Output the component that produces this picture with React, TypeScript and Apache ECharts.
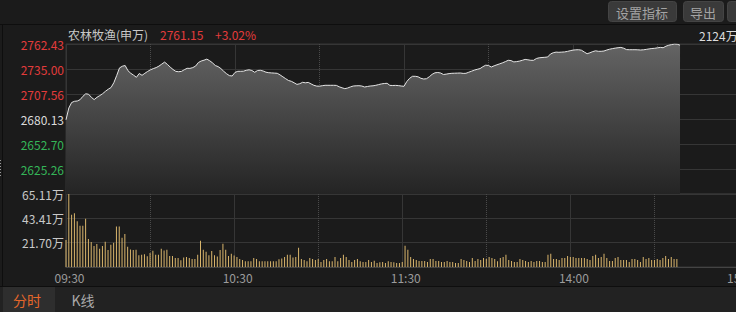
import React, { useEffect, useRef } from 'react';
import * as echarts from 'echarts';

// ---- data ----
const indexName = '农林牧渔(申万)';
const prevClose = 2680.13;
const priceMin = 2597.83;
const priceMax = 2762.43;
const volMax = 65.11;
const totalVolumeLabel = '2124万';
const tickMinutes = [0, 60, 120, 180, 240];
const tickLabels = ['09:30', '10:30', '11:30', '14:00', '15:00'];
const toolbarButtons = ['设置指标', '导出', ''];
const tabs = ['分时', 'K线'];

const prices = [
  2679.25, 2692.2, 2698.23, 2699.55, 2699.88, 2701.31, 2705.04, 2707.78, 2707.34, 2703.94,
  2701.42, 2703.94, 2705.8, 2707.89, 2710.52, 2712.83, 2714.69, 2720.07, 2727.86, 2736.2,
  2738.06, 2738.83, 2733.12, 2730.27, 2728.19, 2725.88, 2730.05, 2728.08, 2730.27, 2732.36,
  2734.11, 2735.43, 2736.53, 2738.17, 2740.37, 2742.56, 2740.04, 2737.07, 2734.44, 2732.36,
  2732.03, 2732.36, 2734.22, 2735.76, 2735.65, 2736.53, 2738.17, 2742.12, 2743.77, 2744.65,
  2745.85, 2744.1, 2741.79, 2738.83, 2737.62, 2735.43, 2732.47, 2729.83, 2727.75, 2727.31,
  2731.26, 2732.47, 2732.47, 2732.58, 2733.56, 2734.11, 2733.34, 2731.37, 2733.34, 2733.56,
  2732.8, 2731.48, 2730.93, 2730.71, 2730.49, 2730.27, 2728.52, 2726.43, 2724.35, 2722.37,
  2721.49, 2719.85, 2718.09, 2718.86, 2720.4, 2719.85, 2720.29, 2718.64, 2717.11, 2716.23,
  2716.12, 2716.67, 2717.11, 2717.11, 2717.11, 2717.11, 2717.0, 2715.46, 2714.36, 2713.41,
  2714.14, 2715.35, 2716.34, 2716.56, 2716.67, 2716.34, 2715.24, 2715.79, 2716.34, 2716.56,
  2717.11, 2717.87, 2718.64, 2719.08, 2719.3, 2717.0, 2716.89, 2717.0, 2716.78, 2716.34,
  2716.01, 2721.28, 2724.79, 2726.98, 2726.98, 2726.43, 2724.79, 2724.02, 2724.35, 2726.54,
  2729.17, 2730.82, 2731.15, 2730.6, 2728.95, 2729.39, 2729.94, 2730.27, 2730.38, 2730.49,
  2730.6, 2730.16, 2730.27, 2731.48, 2732.58, 2733.78, 2734.66, 2735.43, 2737.51, 2739.16,
  2738.83, 2737.18, 2738.5, 2739.6, 2740.7, 2741.79, 2743.11, 2744.54, 2744.21, 2742.78,
  2743.11, 2743.66, 2744.54, 2745.52, 2745.08, 2744.54, 2744.54, 2746.51, 2747.28, 2747.61,
  2747.83, 2748.16, 2751.45, 2752.87, 2753.53, 2753.31, 2753.53, 2753.75, 2754.3, 2755.07,
  2755.73, 2756.06, 2756.17, 2755.62, 2753.64, 2751.78, 2752.76, 2754.08, 2754.96, 2754.41,
  2754.41, 2754.74, 2755.84, 2756.71, 2757.37, 2757.92, 2758.36, 2758.69, 2757.81, 2756.28,
  2756.17, 2756.17, 2756.17, 2756.06, 2755.84, 2756.06, 2756.5, 2757.04, 2757.48, 2757.7,
  2758.25, 2758.69, 2758.36, 2760.01, 2761.1, 2761.76, 2762.43, 2762.2, 2761.15,
];

// 万
const volumes = [
  24.1, 65.11, 46.7, 47.9, 40.7, 36.8, 36.8, 43.1, 25.0, 22.3,
  18.7, 20.5, 16.3, 18.7, 22.6, 15.1, 19.9, 21.7, 36.2, 36.2,
  26.2, 29.5, 18.1, 15.7, 15.1, 15.4, 10.5, 10.9, 11.4, 9.6,
  12.4, 14.5, 10.9, 10.9, 16.3, 14.8, 15.4, 9.9, 9.9, 8.1,
  8.1, 6.0, 8.4, 9.0, 8.1, 7.2, 7.2, 10.9, 23.5, 15.4,
  13.6, 10.5, 14.2, 10.5, 9.3, 15.1, 20.8, 15.4, 9.9, 11.8,
  10.2, 9.0, 7.2, 6.3, 5.1, 5.1, 5.1, 8.1, 7.2, 5.1,
  5.1, 5.1, 5.1, 5.1, 5.1, 5.1, 6.9, 7.5, 9.0, 10.9,
  10.9, 8.4, 9.0, 17.2, 7.2, 6.3, 5.1, 8.1, 7.2, 6.3,
  7.2, 4.5, 6.3, 7.2, 5.1, 5.1, 9.0, 5.1, 8.1, 10.9,
  9.0, 6.3, 4.5, 6.3, 7.2, 5.1, 4.5, 4.5, 6.3, 4.5,
  5.5, 3.6, 4.2, 4.5, 3.6, 5.1, 4.5, 4.2, 3.6, 3.6,
  4.5, 19.0, 15.4, 9.0, 7.2, 6.3, 5.4, 5.4, 5.4, 4.5,
  7.2, 7.2, 5.4, 5.4, 4.5, 4.5, 5.4, 4.5, 4.5, 3.6,
  3.6, 7.2, 6.3, 5.4, 4.5, 8.1, 5.4, 7.2, 6.3, 8.1,
  7.2, 9.0, 8.1, 7.2, 5.1, 8.1, 9.0, 10.9, 6.3, 5.4,
  4.5, 4.5, 7.2, 6.3, 5.4, 4.5, 5.4, 4.5, 5.4, 5.4,
  4.5, 4.5, 10.9, 11.8, 7.2, 7.2, 6.3, 8.1, 8.1, 9.9,
  9.0, 9.0, 8.1, 8.1, 8.1, 8.1, 7.2, 6.3, 9.9, 10.9,
  8.1, 9.0, 11.8, 8.1, 5.4, 5.4, 8.1, 9.0, 6.3, 6.3,
  6.3, 4.5, 7.2, 7.2, 6.3, 4.5, 9.0, 7.2, 8.1, 6.3,
  6.3, 7.2, 6.3, 8.1, 9.9, 7.2, 9.0, 7.2, 7.2,
];

const FONT = '"Microsoft YaHei", "Noto Sans CJK SC", sans-serif';
const RED = '#e33b3b';
const GREEN = '#35b558';
const GRID = '#363636';

export default function App() {
  const ref = useRef<HTMLDivElement>(null);

  useEffect(() => {
    document.body.style.margin = '0';
    const chart = echarts.init(ref.current!, null, { renderer: 'svg' });

    const last = prices[prices.length - 1];
    const pct = ((last / prevClose) - 1) * 100;
    const pctText = (pct >= 0 ? '+' : '') + pct.toFixed(2) + '%';
    const headColor = pct >= 0 ? RED : GREEN;

    const priceInterval = (priceMax - priceMin) / 6 + 1e-7;
    const volInterval = volMax / 3 + 1e-7;

    const xCommon = {
      type: 'value' as const,
      min: 0,
      max: 240,
      interval: 60,
      axisTick: { show: false },
      splitLine: { show: true, lineStyle: { color: GRID, width: 1 } },
      minorTick: { show: false, splitNumber: 2 },
      minorSplitLine: { show: true, lineStyle: { color: '#4a4a4a', type: 'dotted' as const, width: 1 } },
    };

    const btnX = [608, 683, 727];
    const btnW = [68, 40, 40];
    const graphics: any[] = [
      { type: 'line', shape: { x1: 0, y1: 24.5, x2: 760, y2: 24.5 }, style: { stroke: '#0e0e0e', lineWidth: 1 } },
      { type: 'line', shape: { x1: 2.5, y1: 25, x2: 2.5, y2: 286 }, style: { stroke: '#0e0e0e', lineWidth: 1 } },
      { type: 'line', shape: { x1: 0.5, y1: 160, x2: 0.5, y2: 177 }, style: { stroke: '#9a9a9a', lineWidth: 1, lineDash: [1, 2] } },
      { type: 'rect', shape: { x: 0, y: 286, width: 760, height: 26 }, style: { fill: '#222222' } },
      { type: 'line', shape: { x1: 0, y1: 286.5, x2: 760, y2: 286.5 }, style: { stroke: '#0e0e0e', lineWidth: 1 } },
      { type: 'rect', shape: { x: 3, y: 287, width: 52, height: 25 }, style: { fill: '#2e2e2e' } },
      { type: 'text', style: { text: tabs[0], x: 27, y: 300, fill: '#e6672b', font: `14px ${FONT}`, align: 'center', verticalAlign: 'middle' } },
      { type: 'text', style: { text: tabs[1], x: 83, y: 300, fill: '#a8a8a8', font: `14px ${FONT}`, align: 'center', verticalAlign: 'middle' } },
      { type: 'text', style: { text: indexName, x: 68, y: 34, fill: '#c8c8c8', font: `12px ${FONT}`, align: 'left', verticalAlign: 'middle' } },
      { type: 'text', style: { text: last.toFixed(2), x: 160, y: 34, fill: headColor, font: `12px ${FONT}`, align: 'left', verticalAlign: 'middle' } },
      { type: 'text', style: { text: pctText, x: 215, y: 34, fill: headColor, font: `12px ${FONT}`, align: 'left', verticalAlign: 'middle' } },
      { type: 'text', style: { text: totalVolumeLabel, x: 699, y: 35, fill: '#dcdcdc', font: `12px ${FONT}`, align: 'left', verticalAlign: 'middle' } },
    ];
    toolbarButtons.forEach((b, i) => {
      graphics.push({ type: 'rect', shape: { x: btnX[i] + 0.5, y: 1.5, width: btnW[i], height: 20, r: 3 }, style: { fill: '#3a3a3a', stroke: '#444', lineWidth: 1 } });
      if (b) graphics.push({ type: 'text', style: { text: b, x: btnX[i] + btnW[i] / 2, y: 12, fill: '#a4a4a4', font: `13px ${FONT}`, align: 'center', verticalAlign: 'middle' } });
    });

    const option: any = {
      animation: false,
      backgroundColor: '#1b1b1b',
      textStyle: { fontFamily: FONT },
      grid: [
        { left: 66, top: 44, width: 676, height: 150, show: true, borderColor: GRID, borderWidth: 1, containLabel: false },
        { left: 66, top: 194, width: 676, height: 73, show: true, borderColor: GRID, borderWidth: 1, containLabel: false },
      ],
      xAxis: [
        { ...xCommon, gridIndex: 0, axisLine: { show: false }, axisLabel: { show: false } },
        {
          ...xCommon,
          gridIndex: 1,
          axisLine: { show: true, lineStyle: { color: '#444' } },
          axisLabel: {
            show: true,
            showMinLabel: true,
            showMaxLabel: true,
            color: '#9c9c9c',
            fontSize: 12,
            margin: 4,
            padding: [0, 0, 0, 7],
            formatter: (v: number) => {
              const i = tickMinutes.indexOf(Math.round(v));
              return i >= 0 ? tickLabels[i] : '';
            },
          },
        },
      ],
      yAxis: [
        {
          type: 'value',
          gridIndex: 0,
          min: priceMin,
          max: priceMax,
          interval: priceInterval,
          axisLine: { show: false },
          axisTick: { show: false },
          splitLine: { show: true, lineStyle: { color: GRID } },
          axisLabel: {
            margin: 2,
            fontSize: 12,
            padding: [6, 0, 0, 0],
            formatter: (v: number) => (Math.abs(v - priceMin) < 0.01 ? '' : v.toFixed(2)),
            color: (v: any) => {
              const n = Number(v);
              if (Math.abs(n - prevClose) < 0.01) return '#dcdcdc';
              return n > prevClose ? RED : GREEN;
            },
          },
        },
        {
          type: 'value',
          gridIndex: 1,
          min: 0,
          max: volMax,
          interval: volInterval,
          axisLine: { show: false },
          axisTick: { show: false },
          splitLine: { show: true, lineStyle: { color: GRID } },
          axisLabel: {
            margin: 2,
            fontSize: 12,
            color: '#c8c8c8',
            padding: [7, 0, 0, 0],
            formatter: (v: number) => (v < 0.01 ? '' : v.toFixed(2) + '万'),
          },
        },
      ],
      series: [
        {
          type: 'line',
          xAxisIndex: 0,
          yAxisIndex: 0,
          data: prices.map((p, i) => [i, p]),
          symbol: 'none',
          lineStyle: { color: '#e4e4e4', width: 1 },
          areaStyle: {
            origin: 'start',
            color: new echarts.graphic.LinearGradient(0, 0, 0, 1, [
              { offset: 0, color: '#646464' },
              { offset: 1, color: '#242424' },
            ]),
            opacity: 1,
          },
          z: 3,
        },
        {
          type: 'bar',
          xAxisIndex: 1,
          yAxisIndex: 1,
          data: volumes.map((v, i) => [i, v]),
          barWidth: 1,
          itemStyle: { color: '#d9b56c' },
          z: 3,
        },
      ],
      graphic: graphics,
    };

    chart.setOption(option);
    return () => chart.dispose();
  }, []);

  return (
    <div style={{ width: 736, height: 312, overflow: 'hidden', background: '#1b1b1b', position: 'relative' }}>
      <div ref={ref} style={{ width: 760, height: 312 }} />
    </div>
  );
}
